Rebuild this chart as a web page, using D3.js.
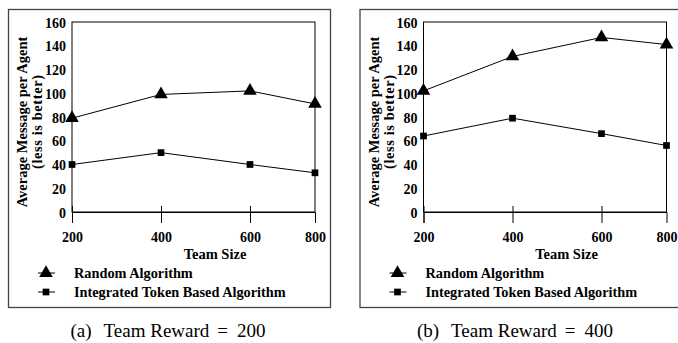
<!DOCTYPE html>
<html>
<head>
<meta charset="utf-8">
<script src="https://cdn.jsdelivr.net/npm/d3@7"></script>
<style>
body { margin: 0; background: #fff; }
</style>
</head>
<body>
<div id="the_chart"></div>
<script>
// values
var teamSizes = [200, 400, 600, 800];
var yTicks = [0, 20, 40, 60, 80, 100, 120, 140, 160];
var randomA = [79, 99, 102, 91];
var tokenA = [40, 50, 40, 33];
var randomB = [102, 131, 147, 141];
var tokenB = [64, 79, 66, 56];
var seriesNames = ["Random Algorithm", "Integrated Token Based Algorithm"];
var panelLabels = ["(a)", "(b)"];
var rewards = [200, 400];

var w = 678, h = 343;
var font = "Liberation Serif";

var svg = d3.select("#the_chart")
            .append("svg")
            .attr("width", w)
            .attr("height", h)
            .style("font-family", font);

var panels = [
    {dx: 0, random: randomA, token: tokenA, label: panelLabels[0], reward: rewards[0], capX: 168},
    {dx: 351.5, random: randomB, token: tokenB, label: panelLabels[1], reward: rewards[1], capX: 515}
];

var tri = d3.symbol().type(d3.symbolTriangle).size(80);
var sq = d3.symbol().type(d3.symbolSquare).size(45);

panels.forEach(function(p) {
    var g = svg.append("g").attr("transform", "translate(" + p.dx + ",0)");

    // outer frame
    g.append("rect")
        .attr("x", 8.5).attr("y", 9.5)
        .attr("width", 322).attr("height", 298)
        .attr("fill", "#fff")
        .attr("stroke", "#444")
        .attr("stroke-width", 1.3);

    // x positions are not evenly spaced in the original (last step is shorter)
    var xscale = d3.scaleLinear()
        .domain(teamSizes)
        .range([72, 161, 250, 315]);

    var yscale = d3.scaleLinear()
        .domain([0, 160])
        .range([212, 22]);

    // plot box
    g.append("rect")
        .attr("x", xscale(200)).attr("y", yscale(160))
        .attr("width", xscale(800) - xscale(200))
        .attr("height", yscale(0) - yscale(160))
        .attr("fill", "none")
        .attr("stroke", "#000")
        .attr("stroke-width", 1);

    var yaxis = d3.axisLeft(yscale)
        .tickValues(yTicks)
        .tickSize(0)
        .tickPadding(6);

    var gY = g.append("g")
        .attr("transform", "translate(" + xscale(200) + ",0)")
        .call(yaxis)
        .attr("font-family", null);
    gY.select(".domain").remove();
    gY.selectAll("text")
        .style("font-family", font)
        .attr("font-weight", "bold")
        .attr("font-size", 14)
        .attr("fill", "#000")
        .attr("dy", "0.36em");

    var xaxis = d3.axisBottom(xscale)
        .tickValues(teamSizes)
        .tickSizeOuter(0)
        .tickSize(11)
        .tickPadding(9)
        .tickFormat(d3.format("d"));

    var gX = g.append("g")
        .attr("transform", "translate(0," + yscale(0) + ")")
        .call(xaxis)
        .attr("font-family", null);
    gX.select(".domain").attr("stroke", "#000");
    gX.selectAll(".tick line")
        .attr("y1", -6)
        .attr("stroke", "#000")
        .attr("display", function(d) { return d == 800 ? "none" : null; });
    gX.selectAll("text")
        .style("font-family", font)
        .attr("font-weight", "bold")
        .attr("font-size", 14)
        .attr("fill", "#000");

    // axis titles
    g.append("text")
        .attr("x", 215).attr("y", 259)
        .attr("text-anchor", "middle")
        .attr("font-weight", "bold").attr("font-size", 14.5)
        .text("Team Size");

    g.append("text")
        .attr("transform", "translate(27,122) rotate(-90)")
        .attr("text-anchor", "middle")
        .attr("font-weight", "bold").attr("font-size", 14.5)
        .text("Average Message per Agent");
    g.append("text")
        .attr("transform", "translate(42,122) rotate(-90)")
        .attr("text-anchor", "middle")
        .attr("font-weight", "bold").attr("font-size", 14.5)
        .attr("textLength", 94)
        .text("(less is better)");

    var line = d3.line()
        .x(function(d, i) { return xscale(teamSizes[i]); })
        .y(function(d) { return yscale(d); });

    [p.random, p.token].forEach(function(vals, k) {
        g.append("path")
            .datum(vals)
            .attr("d", line)
            .attr("fill", "none")
            .attr("stroke", "#000")
            .attr("stroke-width", 1);

        g.selectAll(".m" + k)
            .data(vals)
          .enter().append("path")
            .attr("class", "m" + k)
            .attr("d", k == 0 ? tri : sq)
            .attr("fill", "#000")
            .attr("transform", function(d, i) {
                return "translate(" + xscale(teamSizes[i]) + "," + yscale(d) + ")";
            });
    });

    // legend
    var ly = [273, 292];
    seriesNames.forEach(function(name, k) {
        g.append("line")
            .attr("x1", 38).attr("x2", 55)
            .attr("y1", ly[k]).attr("y2", ly[k])
            .attr("stroke", "#000");
        g.append("path")
            .attr("d", k == 0 ? tri : sq)
            .attr("fill", "#000")
            .attr("transform", "translate(46," + ly[k] + ")");
        g.append("text")
            .attr("x", 74).attr("y", ly[k] + 5)
            .attr("font-weight", "bold").attr("font-size", 14.3)
            .text(name);
    });

    // caption under the panel
    var cap = svg.append("text")
        .attr("x", p.capX).attr("y", 337)
        .attr("text-anchor", "middle")
        .attr("font-size", 19)
        .attr("fill", "#000");
    cap.append("tspan").text(p.label);
    cap.append("tspan").attr("dx", 12).text("Team Reward");
    cap.append("tspan").attr("dx", 8).text("=");
    cap.append("tspan").attr("dx", 9).text(p.reward);
});
</script>
</body>
</html>
